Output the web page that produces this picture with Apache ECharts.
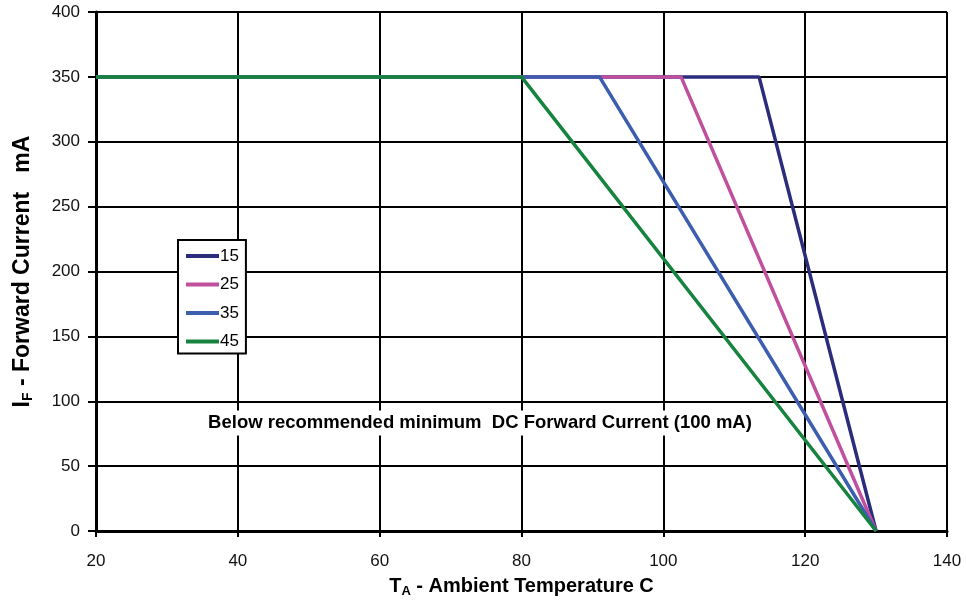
<!DOCTYPE html>
<html>
<head>
<meta charset="utf-8">
<script src="https://cdn.jsdelivr.net/npm/echarts@6/dist/echarts.min.js"></script>
<style>html,body{margin:0;padding:0;background:#fff}#c{width:966px;height:606px}</style>
</head>
<body>
<div id="c"></div>
<script>
const seriesNames = ['15', '25', '35', '45'];
const seriesColors = ['#2b2c7c', '#c0509e', '#3d5daf', '#16833f'];
const s15 = [[20, 350], [113.5, 350], [130, 0]];
const s25 = [[20, 350], [102.5, 350], [130, 0]];
const s35 = [[20, 350], [91, 350], [130, 0]];
const s45 = [[20, 350], [80, 350], [130, 0]];
const seriesData = [s15, s25, s35, s45];
const xTicks = [20, 40, 60, 80, 100, 120, 140];
const yTicks = [0, 50, 100, 150, 200, 250, 300, 350, 400];
const annotation = 'Below recommended minimum  DC Forward Current (100 mA)';

const chart = echarts.init(document.getElementById('c'));
const font = 'Liberation Sans, Arial, sans-serif';
chart.setOption({
  animation: false,
  backgroundColor: '#fff',
  grid: { left: 96, right: 19, top: 12, bottom: 75, show: false, containLabel: false, outerBoundsMode: 'none' },
  xAxis: {
    type: 'value', min: xTicks[0], max: xTicks[xTicks.length - 1], interval: 20,
    axisLine: { show: true, onZero: false, lineStyle: { color: '#000', width: 3 } },
    axisTick: { show: true, length: 6, lineStyle: { color: '#000', width: 2 } },
    axisLabel: { color: '#111', fontSize: 17, fontFamily: font, margin: 22 },
    splitLine: { show: true, lineStyle: { color: '#000', width: 2 } },
    name: '{b|T}{s|A}{b| - Ambient Temperature C}',
    nameLocation: 'middle', nameGap: 44,
    nameTextStyle: {
      rich: {
        b: { fontSize: 20, fontWeight: 'bold', fontFamily: font, color: '#000' },
        s: { fontSize: 13, fontWeight: 'bold', fontFamily: font, color: '#000', padding: [10, 0, 0, 0] }
      }
    }
  },
  yAxis: {
    type: 'value', min: yTicks[0], max: yTicks[yTicks.length - 1], interval: 50,
    axisLine: { show: true, onZero: false, lineStyle: { color: '#000', width: 3 } },
    axisTick: { show: true, length: 8, lineStyle: { color: '#000', width: 2 } },
    axisLabel: { color: '#111', fontSize: 17, fontFamily: font, margin: 16 },
    splitLine: { show: true, lineStyle: { color: '#000', width: 2 } },
    name: '{b|I}{s|F}{b| - Forward Current   mA}',
    nameLocation: 'middle', nameGap: 61, nameRotate: 90,
    nameTextStyle: {
      rich: {
        b: { fontSize: 23, fontWeight: 'bold', fontFamily: font, color: '#000' },
        s: { fontSize: 14, fontWeight: 'bold', fontFamily: font, color: '#000', padding: [11, 0, 0, 0] }
      }
    }
  },
  legend: {
    orient: 'vertical', left: 178, top: 240,
    data: seriesNames,
    icon: 'rect',
    backgroundColor: '#fff', borderColor: '#000', borderWidth: 2,
    padding: [7, 7, 3, 8],
    itemWidth: 33, itemHeight: 4, itemGap: 10.5,
    textStyle: { color: '#000', fontSize: 17, fontFamily: font, lineHeight: 18, padding: [0, 0, 0, -4] }
  },
  graphic: [{
    type: 'text', x: 480, y: 423, z: 10,
    style: {
      text: annotation, fontSize: 18.5, fontWeight: 'bold', fontFamily: font, fill: '#000',
      align: 'center', verticalAlign: 'middle',
      backgroundColor: '#fff', padding: [3, 2, 3, 2]
    }
  }],
  series: seriesData.map((d, i) => ({
    name: seriesNames[i], type: 'line', data: d,
    symbol: 'none',
    lineStyle: { color: seriesColors[i], width: 3.5 },
    itemStyle: { color: seriesColors[i] },
    z: 3 + i
  }))
});
</script>
</body>
</html>
